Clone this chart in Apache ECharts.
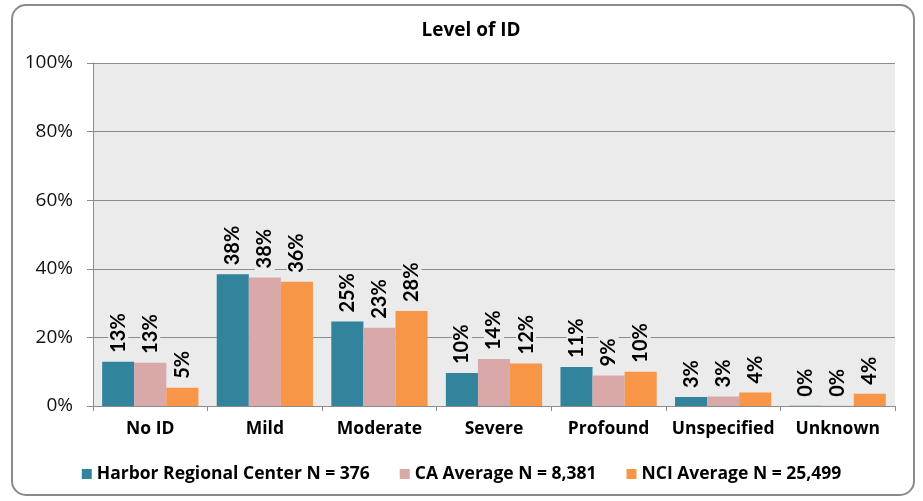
<!DOCTYPE html>
<html>
<head>
<meta charset="utf-8">
<script src="https://cdn.jsdelivr.net/npm/echarts@6/dist/echarts.min.js"></script>
<style>
  html, body { margin: 0; padding: 0; background: #fff; }
  #chart { width: 923px; height: 501px; }
</style>
</head>
<body>
<div id="chart"></div>
<script>
// 数据
var categories = ['No ID', 'Mild', 'Moderate', 'Severe', 'Profound', 'Unspecified', 'Unknown'];
var seriesNames = ['Harbor Regional Center N = 376', 'CA Average N = 8,381', 'NCI Average N = 25,499'];
var harbor = [12.9, 38.4, 24.6, 9.6, 11.4, 2.6, 0.1];
var caAvg = [12.6, 37.5, 22.8, 13.7, 8.9, 2.8, 0.05];
var nciAvg = [5.3, 36.2, 27.7, 12.4, 10.0, 3.9, 3.6];
var yTicks = [0, 20, 40, 60, 80, 100];
var colors = ['#31849b', '#d9a9a9', '#f79646'];

var FONT = '"Open Sans", Lato, sans-serif';
var LABEL_FONT = '"Liberation Sans Narrow", Lato, sans-serif';
var chart = echarts.init(document.getElementById('chart'));

function makeSeries(name, data, color) {
	return {
		name: name,
		type: 'bar',
		data: data,
		barGap: '0%',
		barCategoryGap: '16%',
		itemStyle: { color: color },
		label: {
			show: true,
			position: 'top',
			rotate: 90,
			align: 'left',
			verticalAlign: 'middle',
			distance: 7,
			fontFamily: LABEL_FONT,
			fontWeight: 'bold',
			fontSize: 20,
			color: '#000',
			backgroundColor: '#ebebeb',
			padding: [0, 2],
			formatter: function (p) { return Math.round(p.value) + '%'; }
		}
	};
}

var option = {
	backgroundColor: '#fff',
	animation: false,
	color: colors,
	title: {
		text: 'Level of ID',
		left: 466,
		textAlign: 'center',
		top: 16,
		textStyle: { fontFamily: FONT, fontWeight: 'bold', fontSize: 19, color: '#000' }
	},
	legend: {
		data: seriesNames,
		top: 460,
		left: 'center',
		itemWidth: 10,
		itemHeight: 10,
		itemGap: 30,
		icon: 'rect',
		textStyle: { fontFamily: FONT, fontWeight: 'bold', fontSize: 17.5, color: '#000' }
	},
	grid: { left: 93, right: 28, top: 63, bottom: 95, show: true, backgroundColor: '#ebebeb', borderWidth: 0 },
	xAxis: {
		type: 'category',
		data: categories,
		axisLine: { lineStyle: { color: '#8c8c8c' } },
		axisTick: { show: true, length: 5, inside: false, lineStyle: { color: '#8c8c8c' } },
		axisLabel: { interval: 0, fontFamily: FONT, fontWeight: 'bold', fontSize: 17.5, color: '#000', margin: 14 }
	},
	yAxis: {
		type: 'value',
		min: yTicks[0],
		max: yTicks[yTicks.length - 1],
		interval: 20,
		axisLine: { show: true, lineStyle: { color: '#8c8c8c' } },
		axisTick: { show: true, length: 6, lineStyle: { color: '#8c8c8c' } },
		splitLine: { lineStyle: { color: '#8c8c8c' } },
		axisLabel: { fontFamily: FONT, fontSize: 19, color: '#111', margin: 20, formatter: '{value}%' }
	},
	graphic: [{
		type: 'rect',
		shape: { x: 12, y: 5, width: 902, height: 490, r: 14 },
		style: { fill: 'none', stroke: '#8a8a8a', lineWidth: 2 },
		z: -1
	}],
	series: [
		makeSeries(seriesNames[0], harbor, colors[0]),
		makeSeries(seriesNames[1], caAvg, colors[1]),
		makeSeries(seriesNames[2], nciAvg, colors[2])
	]
};
chart.setOption(option);
</script>
</body>
</html>
